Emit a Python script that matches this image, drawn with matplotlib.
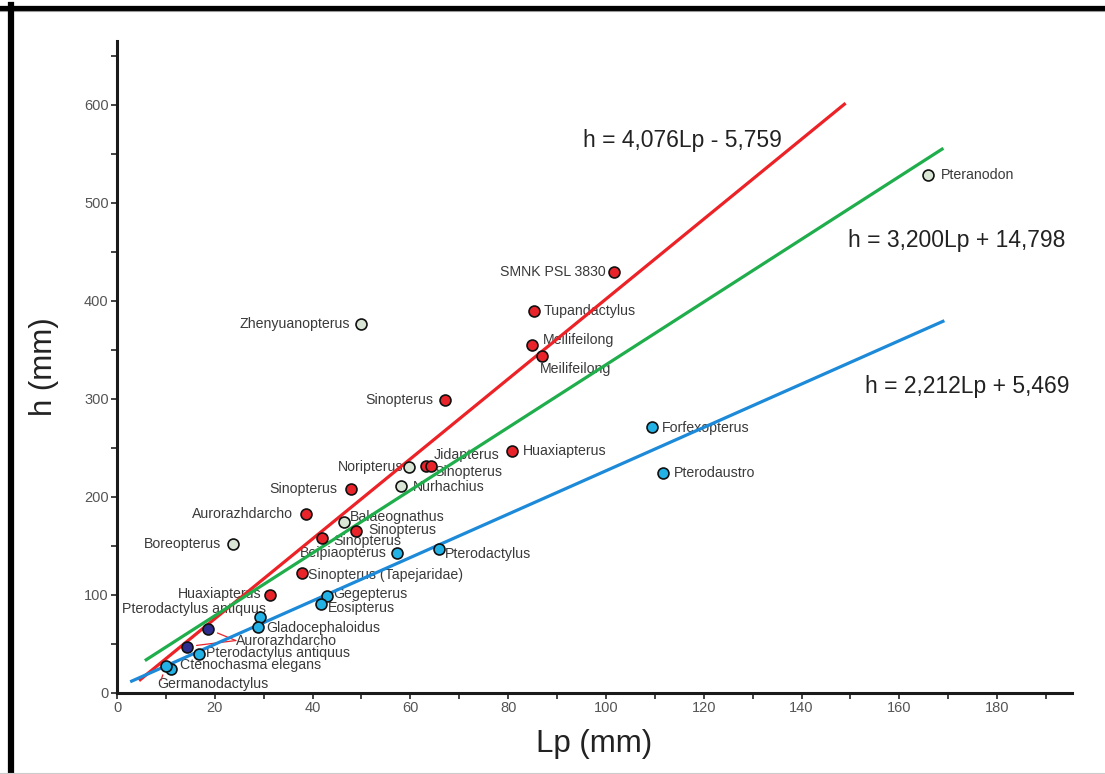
import matplotlib
matplotlib.use('Agg')
import matplotlib.pyplot as plt
from matplotlib.lines import Line2D
from matplotlib.ticker import MultipleLocator

plt.rcParams['font.family'] = ['Liberation Sans', 'DejaVu Sans']

# ---- data ----
# regression lines: h = a * Lp + b, drawn over [lp_start, lp_end]
fit_a = [4.076, 3.200, 2.212]
fit_b = [-5.759, 14.798, 5.469]
fit_range = [(4.5, 149.0), (5.7, 169.0), (2.7, 169.2)]
fit_text = ['h = 4,076Lp - 5,759', 'h = 3,200Lp + 14,798', 'h = 2,212Lp + 5,469']

red_lp = [101.7, 85.3, 84.8, 87.0, 67.1, 80.8, 63.2, 64.2, 47.8, 38.7, 48.9, 41.9, 37.8, 31.3]
red_h = [429.6, 389.8, 355.0, 344.0, 299.0, 247.0, 231.6, 231.6, 208.0, 182.3, 165.0, 157.9, 122.8, 100.0]
red_names = ['SMNK PSL 3830', 'Tupandactylus', 'Meilifeilong', 'Meilifeilong', 'Sinopterus',
             'Huaxiapterus', 'Jidapterus', 'Sinopterus', 'Sinopterus', 'Aurorazhdarcho',
             'Sinopterus', 'Sinopterus', 'Sinopterus (Tapejaridae)', 'Huaxiapterus']

pale_lp = [165.9, 49.9, 59.8, 58.1, 46.5, 23.8]
pale_h = [528.6, 376.5, 231.0, 211.5, 174.8, 151.7]
pale_names = ['Pteranodon', 'Zhenyuanopterus', 'Noripterus', 'Nurhachius', 'Balaeognathus', 'Boreopterus']

cyan_lp = [109.4, 111.7, 65.8, 57.2, 42.9, 41.7, 29.2, 28.9, 16.8, 11.0, 10.0]
cyan_h = [271.4, 224.5, 146.6, 142.5, 99.3, 90.5, 77.9, 67.7, 39.5, 24.5, 27.9]
cyan_names = ['Forfexopterus', 'Pterodaustro', 'Pterodactylus', 'Beipiaopterus', 'Gegepterus',
              'Eosipterus', 'Pterodactylus antiquus', 'Gladocephaloidus', 'Pterodactylus antiquus',
              'Ctenochasma elegans', 'Germanodactylus']

navy_lp = [18.7, 14.3]
navy_h = [65.0, 47.3]
navy_names = ['Aurorazhdarcho', '']

x_ticks = [0, 20, 40, 60, 80, 100, 120, 140, 160, 180]
y_ticks = [0, 100, 200, 300, 400, 500, 600]

# ---- layout: label offsets in pixels (dx, dy, ha) ----
red_off = [(-9, 0, 'right'), (10, 0, 'left'), (11, 5, 'left'), (-3, -13, 'left'),
           (-12, 0, 'right'), (11, 0, 'left'), (8, 11, 'left'), (3, -6, 'left'),
           (-13, 0, 'right'), (-13, 0, 'right'), (12, 1, 'left'), (11, -3, 'left'),
           (6, -2, 'left'), (-9, 1, 'right')]
pale_off = [(13, 0, 'left'), (-11, 0, 'right'), (-6, 0, 'right'), (12, -1, 'left'),
            (5, 5, 'left'), (-12, 0, 'right')]
cyan_off = [(10, -1, 'left'), (11, 0, 'left'), (6, -5, 'left'), (-10, 0, 'right'),
            (6, 2, 'left'), (7, -4, 'left'), (6, 8, 'right'), (8, -1, 'left'),
            (7, 1, 'left'), (9, 4, 'left'), (-9, -18, 'left')]
navy_off = [(28, -12, 'left'), (0, 0, 'left')]
fit_pos = [(95.3, 564, 'left'), (149.5, 462, 'left'), (153.0, 313, 'left')]

fit_colors = ['#ec2227', '#1fae4b', '#1c8ad8']
groups = [
    (red_lp, red_h, red_names, red_off, '#e8232a'),
    (pale_lp, pale_h, pale_names, pale_off, '#d9e6d5'),
    (cyan_lp, cyan_h, cyan_names, cyan_off, '#22b2e6'),
    (navy_lp, navy_h, navy_names, navy_off, '#2d2d8f'),
]

W, H = 1105, 774
fig = plt.figure(figsize=(W / 100, H / 100), dpi=100)
ax = fig.add_axes([117 / W, 1 - 693 / H, (1072 - 117) / W, (693 - 41) / H])

for a, b, (x0, x1), c in zip(fit_a, fit_b, fit_range, fit_colors):
    ax.plot([x0, x1], [a * x0 + b, a * x1 + b], color=c, lw=2.3, zorder=3,
            solid_capstyle='butt')
for txt, (x, y, ha) in zip(fit_text, fit_pos):
    ax.text(x, y, txt, fontsize=16.5, color='#222222', ha=ha, va='center', zorder=2)

for lp, h, names, offs, col in groups:
    ax.scatter(lp, h, s=62, c=col, edgecolors='#111111', linewidths=1.2, zorder=5)
    for x, y, name, (dx, dy, ha) in zip(lp, h, names, offs):
        if not name:
            continue
        ax.annotate(name, (x, y), xytext=(dx, dy), textcoords='offset pixels',
                    ha=ha, va='center', fontsize=10.2, color='#3a3a3a', zorder=2)

# red leader lines for Aurorazhdarcho and Germanodactylus
lead_kw = dict(arrowstyle='-', color='#e8232a', lw=0.9, shrinkA=0, shrinkB=7)
for x, y in zip(navy_lp, navy_h):
    ax.annotate('', xy=(x, y), xytext=(24.3, 53.5), arrowprops=lead_kw, zorder=2)
ax.annotate('', xy=(cyan_lp[-1], cyan_h[-1]), xytext=(9.0, 13.0),
            arrowprops=lead_kw, zorder=2)

ax.set_xlim(0, 195.3)
ax.set_ylim(0, 665)
ax.set_xticks(x_ticks)
ax.set_yticks(y_ticks)
ax.xaxis.set_minor_locator(MultipleLocator(10))
ax.yaxis.set_minor_locator(MultipleLocator(50))
ax.tick_params(which='both', direction='out', length=4, width=1.2, color='#222222',
               labelsize=10.5, labelcolor='#555555', pad=2)
for side in ['top', 'right']:
    ax.spines[side].set_visible(False)
for side in ['left', 'bottom']:
    ax.spines[side].set_linewidth(2.2)
    ax.spines[side].set_color('#1a1a1a')

ax.set_xlabel('Lp (mm)', fontsize=22.5, color='#222222', labelpad=10)
ax.set_ylabel('h (mm)', fontsize=22.5, color='#222222', labelpad=18)

# frame around the figure
fig.add_artist(Line2D([0, 1], [1 - 7.5 / H, 1 - 7.5 / H], transform=fig.transFigure,
                      color='black', lw=3.8))
fig.add_artist(Line2D([0, 1], [1 - 10.5 / H, 1 - 10.5 / H], transform=fig.transFigure,
                      color='#999999', lw=0.8))
fig.add_artist(Line2D([11 / W, 11 / W], [0, 1 - 5 / H], transform=fig.transFigure,
                      color='black', lw=4.5))
fig.add_artist(Line2D([0, 1], [1.5 / H, 1.5 / H], transform=fig.transFigure,
                      color='#cccccc', lw=0.8))

fig.savefig('out.png', dpi=100)
